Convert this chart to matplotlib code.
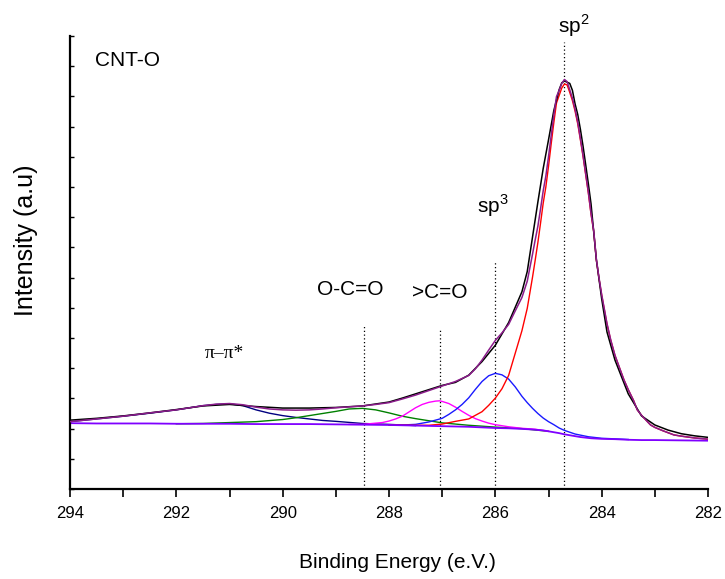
"""C 1s XPS spectrum of CNT-O with fitted components (sp2, sp3, >C=O, O-C=O, pi-pi*)."""
import matplotlib
matplotlib.use("Agg")
import matplotlib.pyplot as plt
import numpy as np

# measured spectrum (black), binding energy in eV, intensity in a.u.
raw_ev = [294.0, 293.5, 293.0, 292.5, 292.0, 291.5, 291.0, 290.5, 290.0, 289.5,
          289.0, 288.5, 288.0, 287.75, 287.5, 287.25, 287.0, 286.75, 286.5, 286.25,
          286.0, 285.75, 285.5, 285.4, 285.3, 285.2, 285.1, 285.0, 284.9, 284.8,
          284.75, 284.7, 284.65, 284.6, 284.55, 284.5, 284.45, 284.4, 284.35, 284.3,
          284.25, 284.2, 284.1, 284.05, 284.0, 283.9, 283.75, 283.5, 283.25, 283.0,
          282.75, 282.5, 282.25, 282.0]
raw_counts = [2.28, 2.34, 2.42, 2.52, 2.63, 2.75, 2.80, 2.73, 2.68, 2.68,
              2.70, 2.75, 2.88, 3.01, 3.15, 3.29, 3.43, 3.53, 3.77, 4.22,
              4.76, 5.51, 6.53, 7.20, 8.35, 9.50, 10.61, 11.56, 12.53, 13.22,
              13.45, 13.51, 13.47, 13.43, 13.20, 12.75, 12.40, 11.91, 11.35, 10.73,
              10.10, 9.44, 7.60, 6.95, 6.30, 5.20, 4.27, 3.15, 2.42, 2.12,
              1.95, 1.83, 1.76, 1.71]

# fit envelope (purple)
fit_ev = [294.0, 293.5, 293.0, 292.5, 292.0, 291.75, 291.5, 291.25, 291.0, 290.75,
          290.5, 290.25, 290.0, 289.75, 289.5, 289.25, 289.0, 288.75, 288.5, 288.25,
          288.0, 287.75, 287.5, 287.25, 287.0, 286.75, 286.5, 286.375, 286.25, 286.125,
          286.0, 285.875, 285.75, 285.625, 285.5, 285.4, 285.3, 285.25, 285.2, 285.15,
          285.1, 285.05, 285.0, 284.95, 284.9, 284.85, 284.8, 284.75, 284.7, 284.65,
          284.6, 284.55, 284.5, 284.45, 284.4, 284.35, 284.3, 284.25, 284.2, 284.15,
          284.1, 284.05, 284.0, 283.9, 283.83, 283.75, 283.67, 283.58, 283.5, 283.4,
          283.33, 283.25, 283.15, 283.08, 283.0, 282.85, 282.64, 282.5, 282.25, 282.0]
fit_envelope = [2.23, 2.32, 2.41, 2.52, 2.62, 2.69, 2.76, 2.81, 2.83, 2.79,
                2.71, 2.65, 2.62, 2.61, 2.62, 2.65, 2.69, 2.72, 2.75, 2.80,
                2.86, 2.98, 3.11, 3.26, 3.41, 3.56, 3.76, 3.98, 4.27, 4.60,
                4.92, 5.17, 5.45, 5.90, 6.34, 6.88, 7.78, 8.25, 8.70, 9.27,
                9.87, 10.36, 11.00, 11.70, 12.38, 12.99, 13.20, 13.43, 13.56, 13.49,
                13.22, 12.94, 12.58, 12.15, 11.61, 11.05, 10.44, 9.83, 9.13, 8.56,
                7.61, 6.99, 6.44, 5.48, 4.94, 4.43, 4.04, 3.61, 3.29, 2.93,
                2.62, 2.44, 2.25, 2.12, 2.04, 1.93, 1.79, 1.75, 1.69, 1.65]

# Shirley-type background (violet)
bg_ev = [294.0, 293.5, 293.0, 292.5, 292.0, 291.5, 291.0, 290.5, 290.0, 289.5,
         289.0, 288.5, 288.0, 287.75, 287.5, 287.25, 287.0, 286.75, 286.5, 286.25,
         286.0, 285.75, 285.5, 285.3, 285.1, 285.0, 284.9, 284.8, 284.7, 284.6,
         284.5, 284.4, 284.3, 284.2, 284.0, 283.75, 283.5, 283.25, 283.0, 282.5, 282.0]
bg_counts = [2.18, 2.17, 2.17, 2.17, 2.16, 2.16, 2.16, 2.15, 2.15, 2.15,
             2.14, 2.13, 2.12, 2.11, 2.10, 2.09, 2.08, 2.07, 2.06, 2.04,
             2.02, 2.01, 1.99, 1.97, 1.94, 1.91, 1.88, 1.85, 1.81, 1.78,
             1.75, 1.72, 1.70, 1.68, 1.66, 1.65, 1.63, 1.62, 1.62, 1.61, 1.60]

# sp2 component (red)
sp2_ev = [288.0, 287.5, 287.25, 287.0, 286.75, 286.5, 286.25, 286.125, 286.0, 285.875,
          285.75, 285.625, 285.5, 285.4, 285.3, 285.25, 285.2, 285.15, 285.1, 285.05,
          285.0, 284.95, 284.9, 284.85, 284.8, 284.75, 284.7, 284.65, 284.6, 284.55,
          284.5, 284.45, 284.4, 284.35, 284.3, 284.25, 284.2, 284.15, 284.1, 284.05,
          284.0, 283.9, 283.83, 283.75, 283.67, 283.58, 283.5, 283.4, 283.33, 283.25,
          283.15, 283.08, 283.0, 282.85, 282.64, 282.5, 282.25, 282.0]
sp2_counts = [2.12, 2.11, 2.11, 2.15, 2.24, 2.32, 2.56, 2.77, 3.01, 3.32,
              3.76, 4.50, 5.24, 5.98, 7.02, 7.58, 8.16, 8.80, 9.46, 10.00,
              10.68, 11.42, 12.13, 12.78, 13.03, 13.28, 13.41, 13.38, 13.13, 12.86,
              12.51, 12.09, 11.56, 11.01, 10.40, 9.79, 9.10, 8.53, 7.58, 6.97,
              6.42, 5.46, 4.93, 4.42, 4.04, 3.61, 3.29, 2.93, 2.62, 2.44,
              2.25, 2.12, 2.04, 1.93, 1.79, 1.75, 1.69, 1.65]

# sp3 component (blue)
sp3_ev = [288.0, 287.75, 287.5, 287.25, 287.125, 287.0, 286.875, 286.75, 286.625, 286.5,
          286.375, 286.25, 286.125, 286.0, 285.875, 285.75, 285.625, 285.5, 285.4, 285.3,
          285.2, 285.1, 285.0, 284.9, 284.8, 284.7, 284.5, 284.25, 284.0, 283.5]
sp3_counts = [2.12, 2.12, 2.14, 2.22, 2.28, 2.34, 2.47, 2.62, 2.80, 3.02,
              3.30, 3.56, 3.75, 3.83, 3.78, 3.64, 3.38, 3.07, 2.86, 2.67,
              2.50, 2.35, 2.23, 2.13, 2.02, 1.94, 1.82, 1.73, 1.68, 1.64]

# >C=O component (magenta)
co_ev = [288.75, 288.5, 288.25, 288.125, 288.0, 287.875, 287.75, 287.625, 287.5, 287.375,
         287.25, 287.125, 287.05, 287.0, 286.875, 286.75, 286.625, 286.5, 286.375, 286.25,
         286.125, 286.0, 285.75, 285.5, 285.25, 285.0]
co_counts = [2.14, 2.14, 2.18, 2.20, 2.25, 2.32, 2.41, 2.55, 2.69, 2.80,
             2.87, 2.91, 2.92, 2.90, 2.83, 2.71, 2.57, 2.44, 2.33, 2.25,
             2.18, 2.13, 2.06, 2.01, 1.98, 1.91]

# O-C=O component (green)
oco_ev = [292.0, 291.5, 291.0, 290.5, 290.0, 289.75, 289.5, 289.25, 289.0, 288.75,
          288.5, 288.25, 288.0, 287.75, 287.5, 287.25, 287.0, 286.75, 286.5, 286.0,
          285.5, 285.0]
oco_counts = [2.16, 2.17, 2.20, 2.23, 2.30, 2.36, 2.43, 2.50, 2.57, 2.65,
              2.67, 2.62, 2.52, 2.41, 2.33, 2.26, 2.19, 2.15, 2.11, 2.05,
              2.00, 1.91]

# pi-pi* shake-up (navy)
pi_ev = [294.0, 293.5, 293.0, 292.5, 292.0, 291.75, 291.5, 291.25, 291.0, 290.75,
         290.5, 290.25, 290.0, 289.75, 289.5, 289.25, 289.0, 288.5, 288.0, 287.5]
pi_counts = [2.23, 2.32, 2.41, 2.51, 2.62, 2.69, 2.76, 2.80, 2.82, 2.76,
             2.62, 2.51, 2.43, 2.37, 2.32, 2.27, 2.24, 2.17, 2.14, 2.10]

# peak positions marked by dotted lines
marker_ev = [288.47, 287.05, 286.0, 284.71]
marker_top = [5.43, 5.29, 7.55, 14.81]

plt.rcParams["font.family"] = "Liberation Sans"
plt.rcParams["mathtext.fontset"] = "custom"
plt.rcParams["mathtext.rm"] = "Liberation Sans"

fig = plt.figure(figsize=(7.25, 5.79), dpi=100)
ax = fig.add_axes([70 / 725, 1 - 489 / 579, 638 / 725, 453 / 579])

ax.plot(raw_ev, raw_counts, color="black", lw=1.1, zorder=3)
ax.plot(fit_ev, fit_envelope, color="#8B1C8B", lw=1.1, zorder=4)
ax.plot(pi_ev, pi_counts, color="#000080", lw=1.0, zorder=2)
ax.plot(oco_ev, oco_counts, color="#008000", lw=1.0, zorder=2)
ax.plot(co_ev, co_counts, color="#FF00FF", lw=1.0, zorder=2)
ax.plot(sp3_ev, sp3_counts, color="#1A1AFF", lw=1.0, zorder=2)
ax.plot(sp2_ev, sp2_counts, color="#FF0000", lw=1.0, zorder=2)
ax.plot(bg_ev, bg_counts, color="#7F00FF", lw=1.3, zorder=2)

for xe, top in zip(marker_ev, marker_top):
    ax.vlines(xe, 0, top, colors="black", linestyles=(0, (1, 2)), lw=0.9, zorder=1)

ax.set_xlim(294, 282)
ax.set_ylim(0, 15)
ax.set_xticks(np.arange(282, 295, 2))
ax.set_xticks(np.arange(283, 294, 2), minor=True)
ax.set_yticks(np.arange(0, 16, 1))
ax.tick_params(axis="x", which="both", direction="out", length=6, width=1.2,
               labelsize=12, pad=6)
ax.tick_params(axis="y", which="both", direction="in", length=3, width=1.0,
               labelleft=False)
for side in ("top", "right"):
    ax.spines[side].set_visible(False)
for side in ("left", "bottom"):
    ax.spines[side].set_linewidth(1.6)

ax.set_xlabel("Binding Energy (e.V.)", fontsize=15)
ax.xaxis.set_label_coords((397 - 70) / 638, -0.141)
ax.set_ylabel("Intensity (a.u)", fontsize=18)
ax.yaxis.set_label_coords(-0.05, (489 - 240) / 453)

ax.text(293.53, 14.0, "CNT-O", fontsize=15, ha="left", va="baseline")
ax.text(284.52, 15.10, r"sp$^{2}$", fontsize=15, ha="center", va="baseline")
ax.text(286.05, 9.14, r"sp$^{3}$", fontsize=15, ha="center", va="baseline")
ax.text(288.72, 6.42, "O-C=O", fontsize=15, ha="center", va="baseline")
ax.text(287.05, 6.32, ">C=O", fontsize=15, ha="center", va="baseline")
ax.text(291.10, 4.34, "\u03c0\u2013\u03c0*", fontsize=14, ha="center", va="baseline",
        family="Liberation Serif")

fig.savefig("out.png", dpi=100)
